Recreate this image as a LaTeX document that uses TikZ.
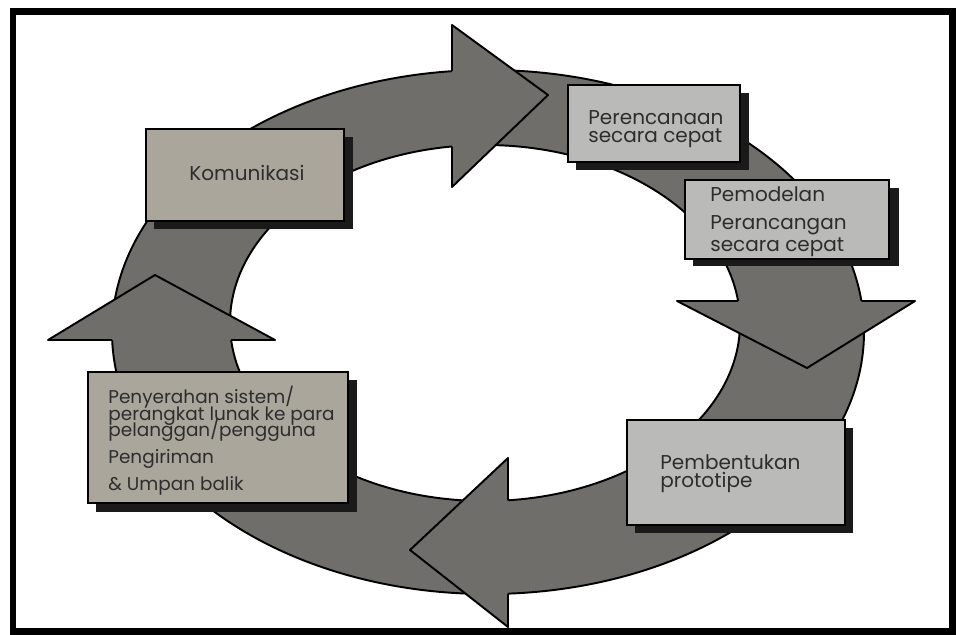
\documentclass[tikz,border=0pt]{standalone}
\usepackage{fontspec}
\setmainfont{Poppins}
\usetikzlibrary{positioning}
\definecolor{ringGray}{RGB}{112,110,107}
\definecolor{boxGray}{RGB}{186,186,184}
\definecolor{boxWarm}{RGB}{170,166,156}
\definecolor{shadowGray}{RGB}{26,26,26}
\definecolor{inkGray}{RGB}{45,45,45}
\newcommand\stagefont{\fontsize{11.4}{10.2}\selectfont\lineskiplimit=-20pt\relax}
\newcommand\serahfont{\fontsize{10.5}{9.3}\selectfont\lineskiplimit=-20pt\relax}

\begin{document}
\begin{tikzpicture}[x=0.02cm, y=-0.02cm,
    ring/.style={fill=ringGray, draw=black, line width=1.1pt, even odd rule},
    head/.style={fill=ringGray},
    headline/.style={draw=black, line width=1.1pt, line join=round},
    stage/.style={draw=black, line width=1.1pt},
    stageshade/.style={fill=shadowGray},
    stagetext/.style={inner sep=0pt, align=left, text=inkGray, font=\stagefont}
  ]
  \useasboundingbox (0,0) rectangle (956,635);

  % ring
  \path[ring] (488,332) ellipse [x radius=376, y radius=262]
              (485,323) ellipse [x radius=255, y radius=178];

  % arrow heads
  \fill[head] (452,25) -- (548,95) -- (452,187) -- cycle;
  \draw[headline] (452,71) -- (452,25) -- (548,95) -- (452,187) -- (452,146.5);
  \fill[head] (677,301) -- (807,368) -- (915,301) -- cycle;
  \draw[headline] (738,301) -- (677,301) -- (807,368) -- (915,301) -- (861.4,301);
  \fill[head] (508,458) -- (410,550) -- (508,627) -- cycle;
  \draw[headline] (508,500.3) -- (508,458) -- (410,550) -- (508,627) -- (508,593.6);
  \fill[head] (48,340) -- (155,275) -- (275,340) -- cycle;
  \draw[headline] (112.2,340) -- (48,340) -- (155,275) -- (275,340) -- (231.2,340);

  % boxes
  \fill[stageshade] (154,137) rectangle (353,229);
  \draw[stage, fill=boxWarm] (146,129) rectangle (344,221);
  \fill[stageshade] (576,93) rectangle (749,170);
  \draw[stage, fill=boxGray] (568,85) rectangle (740,162);
  \fill[stageshade] (693,188) rectangle (899,266);
  \draw[stage, fill=boxGray] (685,180) rectangle (889,259);
  \fill[stageshade] (635,428) rectangle (853,533);
  \draw[stage, fill=boxGray] (627,420) rectangle (845,525);
  \fill[stageshade] (96,380) rectangle (357,512);
  \draw[stage, fill=boxWarm] (88,372) rectangle (348,503);

  % labels
  \node[stagetext] (komunikasi) at (247,173) {Komunikasi};
  \node[stagetext, anchor=north west] (rencana) at (588,110)
    {Perencanaan\\secara cepat};
  \node[stagetext, anchor=north west] (model) at (710,186)
    {Pemodelan\\[6pt]Perancangan\\[2pt]secara cepat};
  \node[stagetext, anchor=north west] (prototipe) at (660,454)
    {Pembentukan\\prototipe};
  \node[stagetext, font=\serahfont, anchor=north west] (serah) at (108,386)
    {Penyerahan sistem/\\perangkat lunak ke para\\pelanggan/pengguna\\[6pt]Pengiriman\\[6pt]\& Umpan balik};

  % frame
  \draw[line width=0.14cm] (13,12) rectangle (952,631);
\end{tikzpicture}
\end{document}
